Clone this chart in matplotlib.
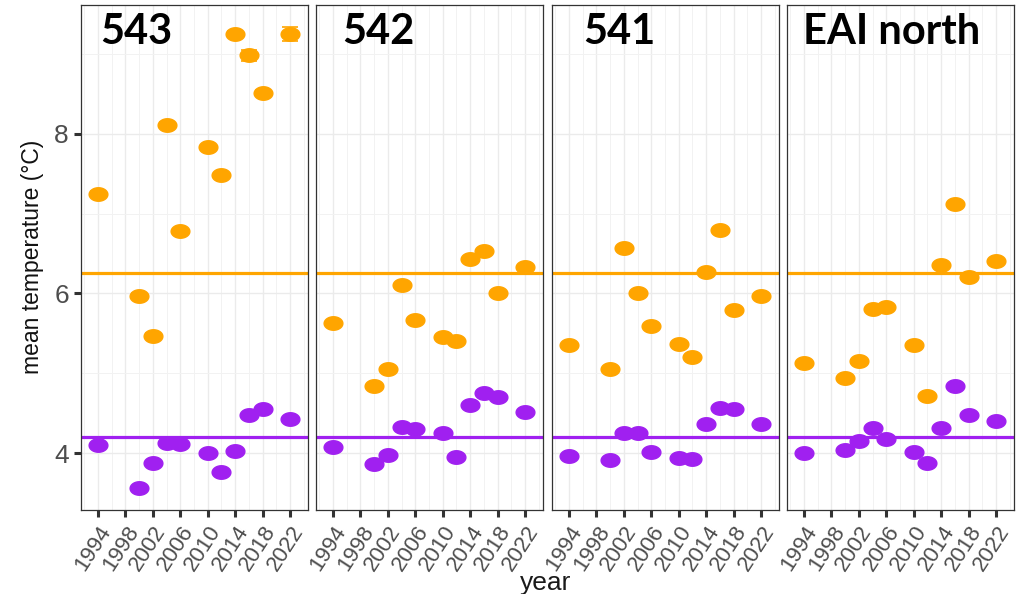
import numpy as np
import matplotlib
matplotlib.use("Agg")
import matplotlib.pyplot as plt
from matplotlib.path import Path

# sampled years, shared by all panels
years = [1994, 2000, 2002, 2004, 2006, 2010, 2012, 2014, 2016, 2018, 2022]
panels = ["543", "542", "541", "EAI north"]

# orange series (upper) per panel
warm_543 = [7.25, 5.97, 5.47, 8.11, 6.78, 7.83, 7.48, 9.25, 8.98, 8.51, 9.25]
warm_542 = [5.63, 4.84, 5.06, 6.10, 5.67, 5.45, 5.40, 6.43, 6.53, 6.00, 6.33]
warm_541 = [5.35, 5.05, 6.57, 6.01, 5.59, 5.37, 5.20, 6.27, 6.80, 5.79, 5.97]
warm_eai = [5.13, 4.94, 5.15, 5.80, 5.83, 5.35, 4.72, 6.35, 7.12, 6.21, 6.40]

# purple series (lower) per panel
cold_543 = [4.10, 3.57, 3.88, 4.13, 4.11, 4.00, 3.77, 4.03, 4.48, 4.55, 4.43]
cold_542 = [4.08, 3.87, 3.98, 4.33, 4.30, 4.25, 3.95, 4.60, 4.76, 4.71, 4.52]
cold_541 = [3.97, 3.91, 4.25, 4.25, 4.02, 3.94, 3.93, 4.37, 4.57, 4.55, 4.37]
cold_eai = [4.00, 4.04, 4.15, 4.31, 4.18, 4.02, 3.88, 4.31, 4.84, 4.48, 4.41]

# error bars (mostly hidden behind the points)
err_543 = [0.03, 0.03, 0.03, 0.03, 0.03, 0.03, 0.03, 0.04, 0.07, 0.04, 0.09]

# reference lines
warm_mean = 6.25
cold_mean = 4.20

warm = [warm_543, warm_542, warm_541, warm_eai]
cold = [cold_543, cold_542, cold_541, cold_eai]
errs = [err_543, None, None, None]

ORANGE = "#FFA500"
PURPLE = "#A020F0"

t = np.linspace(0, 2 * np.pi, 64)
ellipse = Path(np.c_[np.cos(t), 0.72 * np.sin(t)], closed=True)

fig = plt.figure(figsize=(10.3, 5.94), dpi=100)

lefts = [80.7, 315.7, 551.7, 786.7]
title_x = [0.085, 0.116, 0.139, 0.073]
W, H = 1030, 594
for i, name in enumerate(panels):
    ax = fig.add_axes([lefts[i] / W, 84 / H, 227.2 / W, 505 / H])
    ax.set_xlim(1991.5, 2024.6)
    ax.set_ylim(3.29, 9.61)
    ax.set_xticks(range(1994, 2023, 4))
    ax.set_xticks(range(1992, 2025, 4), minor=True)
    ax.set_yticks([4, 6, 8])
    ax.set_yticks([5, 7, 9], minor=True)
    ax.grid(which="major", color="#EBEBEB", lw=1.0)
    ax.grid(which="minor", color="#F2F2F2", lw=0.7)
    ax.set_axisbelow(True)

    ax.axhline(warm_mean, color=ORANGE, lw=2.3, zorder=2)
    ax.axhline(cold_mean, color=PURPLE, lw=2.3, zorder=2)

    if errs[i] is not None:
        ax.errorbar(years, warm[i], yerr=errs[i], fmt="none", ecolor=ORANGE,
                    elinewidth=1.2, capsize=5.5, capthick=1.2, zorder=3)
    ax.plot(years, warm[i], ls="none", marker=ellipse, ms=13.5, color=ORANGE, zorder=4)
    ax.plot(years, cold[i], ls="none", marker=ellipse, ms=13.5, color=PURPLE, zorder=4)

    ax.text(title_x[i], 0.947, name, transform=ax.transAxes, fontsize=30,
            fontweight="bold", family="Lato", ha="left", va="center")

    for s in ax.spines.values():
        s.set_color("#333333")
        s.set_linewidth(0.9)
    ax.tick_params(which="major", length=5, width=2.2, color="#333333",
                   labelcolor="#4D4D4D", labelsize=16)
    ax.tick_params(which="minor", length=0)
    ax.set_xticklabels([str(y) for y in range(1994, 2023, 4)], rotation=57,
                       ha="right", va="top", rotation_mode="anchor",
                       family="Liberation Sans")
    if i == 0:
        ax.set_yticklabels(["4", "6", "8"], family="Liberation Sans", fontsize=19)
    else:
        ax.tick_params(axis="y", left=False, labelleft=False)

fig.text(33 / W, 1 - 257 / H, "mean temperature (°C)", rotation=90, ha="center",
         va="center", fontsize=16.5, color="#111111", family="Liberation Sans")
fig.text(546 / W, 1 - 583 / H, "year", ha="center", va="center", fontsize=19,
         color="#1A1A1A", family="Liberation Sans")

fig.savefig("out.png", dpi=100, facecolor="white")
